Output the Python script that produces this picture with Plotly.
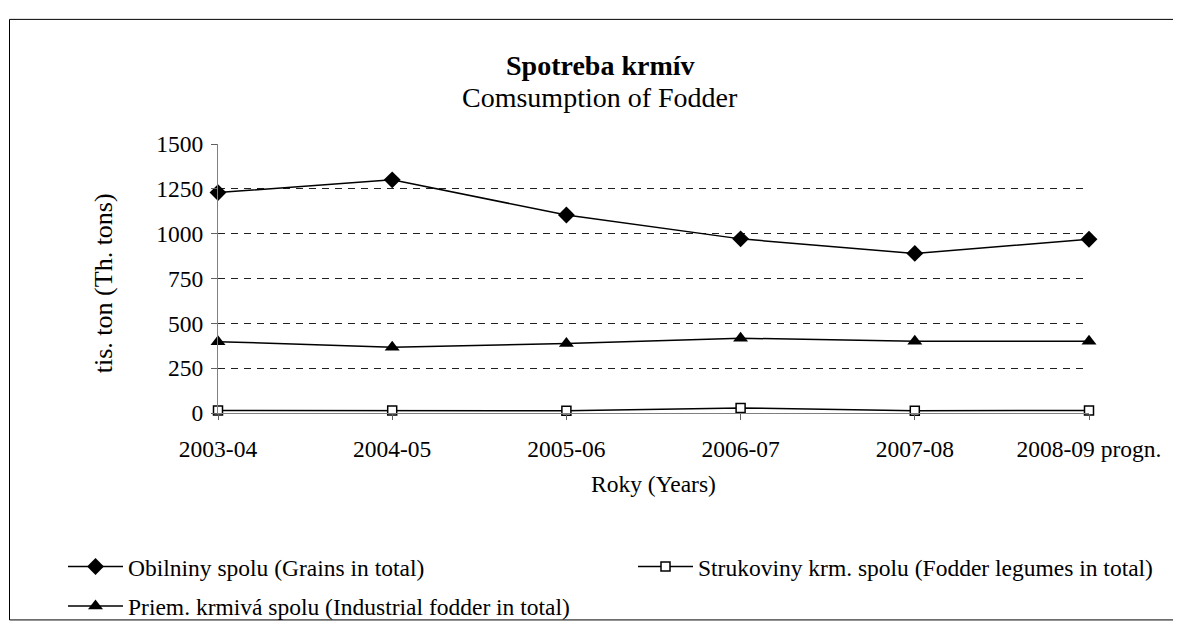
import plotly.graph_objects as go

years = ["2003-04", "2004-05", "2005-06", "2006-07", "2007-08", "2008-09 progn."]
grains = [1229, 1300, 1104, 971, 890, 969]
legumes = [14, 14, 13, 28, 13, 14]
industrial = [398, 367, 388, 417, 400, 400]

names = [
    "Obilniny spolu (Grains in total)",
    "Strukoviny krm. spolu (Fodder legumes in total)",
    "Priem. krmivá spolu (Industrial fodder in total)",
]

FONT = "Liberation Serif"
OFF = 8  # page body margin
W, H = 1173, 633
L, T = 210, 136
pw, ph = 871, 286
R, B = W - L - pw, H - T - ph

def px(x):
    return (x - OFF - L) / pw

def py(y):
    return (H - B - (y - OFF)) / ph

fig = go.Figure()
fig.add_trace(go.Scatter(
    x=years, y=grains, name=names[0], mode="lines+markers",
    line=dict(color="black", width=1.5),
    marker=dict(symbol="diamond", size=13, color="black"),
    cliponaxis=False, legend="legend", legendgroup="a",
))
fig.add_trace(go.Scatter(
    x=years, y=legumes, name=names[1], mode="lines+markers",
    line=dict(color="black", width=1.5),
    marker=dict(symbol="square", size=9, color="white", line=dict(color="black", width=1.5)),
    cliponaxis=False, legend="legend2", legendgroup="b",
))
fig.add_trace(go.Scatter(
    x=years, y=industrial, name=names[2], mode="lines+markers",
    line=dict(color="black", width=1.5),
    marker=dict(symbol="triangle-up", size=13, color="black"),
    cliponaxis=False, legend="legend", legendgroup="c",
))

fig.update_layout(
    width=W, height=H,
    margin=dict(l=L, r=R, t=T, b=B),
    paper_bgcolor="white", plot_bgcolor="white",
    font=dict(family=FONT, size=23.5, color="black"),
    showlegend=True,
    legend=dict(
        x=px(63), y=py(570), xanchor="left", yanchor="top",
        orientation="v", font=dict(family=FONT, size=23.5),
        traceorder="grouped", tracegroupgap=6, itemwidth=55,
        bgcolor="rgba(0,0,0,0)",
    ),
    legend2=dict(
        x=px(633), y=py(570), xanchor="left", yanchor="top",
        orientation="v", font=dict(family=FONT, size=23.5), itemwidth=55,
        bgcolor="rgba(0,0,0,0)",
    ),
    xaxis=dict(
        type="category", range=[0, len(years) - 1],
        showgrid=False, showline=True, linecolor="#808080", linewidth=1,
        ticks="outside", ticklen=6, tickcolor="#606060",
        ticklabelstandoff=9,
        tickfont=dict(family=FONT, size=23.5), zeroline=False,
    ),
    yaxis=dict(
        range=[0, 1500], tickvals=[0, 250, 500, 750, 1000, 1250, 1500],
        showgrid=True, gridcolor="#202020", griddash="7px,6px", gridwidth=1,
        showline=True, linecolor="#808080", linewidth=1,
        ticks="outside", ticklen=6, tickcolor="#606060",
        ticklabelstandoff=3,
        tickfont=dict(family=FONT, size=23.5), zeroline=False,
    ),
    annotations=[
        dict(text="<b>Spotreba krmív</b>", x=px(600), xref="paper", y=py(61),
             yref="paper", xanchor="center", yanchor="middle", showarrow=False,
             font=dict(family=FONT, size=28)),
        dict(text="Comsumption of Fodder", x=px(600), xref="paper", y=py(95),
             yref="paper", xanchor="center", yanchor="middle", showarrow=False,
             font=dict(family=FONT, size=28)),
        dict(text="tis. ton (Th. tons)", x=px(103), xref="paper", y=py(292),
             yref="paper", xanchor="center", yanchor="middle", showarrow=False,
             textangle=-90, font=dict(family=FONT, size=26)),
        dict(text="Roky (Years)", x=px(653), xref="paper", y=py(505),
             yref="paper", xanchor="center", yanchor="middle", showarrow=False,
             font=dict(family=FONT, size=23.5)),
    ],
    shapes=[
        dict(type="rect", xref="paper", yref="paper",
             x0=px(9.5), x1=px(1190), y0=py(650), y1=py(11.5),
             line=dict(color="black", width=1), fillcolor="rgba(0,0,0,0)",
             layer="below"),
    ],
)

fig.write_html("out.html")
